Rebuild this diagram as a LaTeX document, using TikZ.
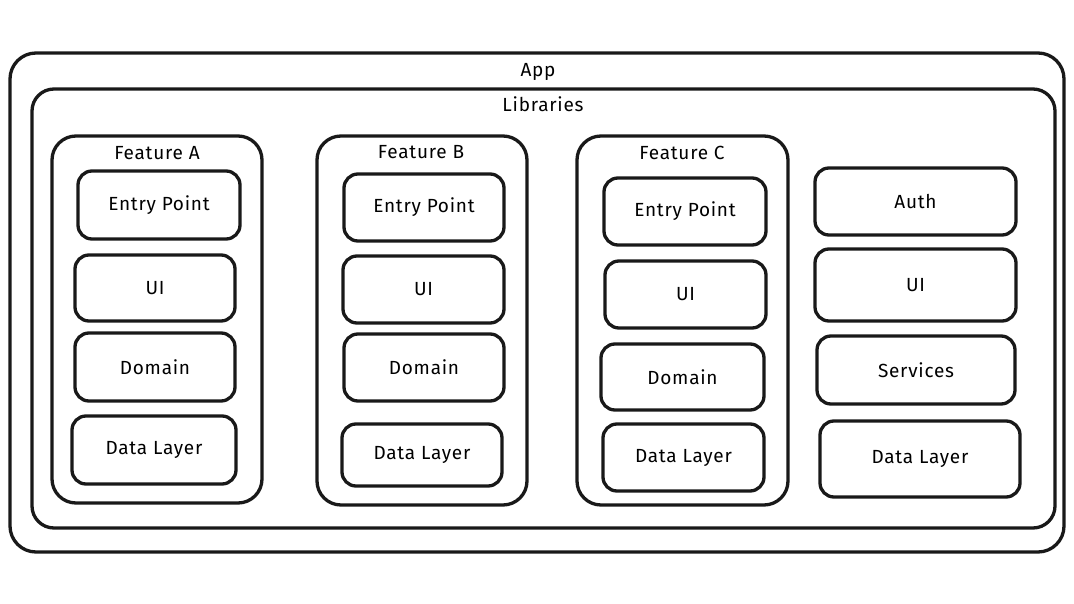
\documentclass[tikz,border=0pt]{standalone}
\usepackage{fontspec}
\setmainfont{Fira Sans}[LetterSpace=4]
\begin{document}
\begin{tikzpicture}[x=1pt,y=-1pt,
  frame/.style={draw=black!90, line width=3.3pt, rounded corners=#1, inner sep=0pt},
  frame/.default=14pt,
  item/.style={frame=14pt, font=\fontsize{19}{22}\selectfont},
  ttl/.style={font=\fontsize{19}{22}\selectfont, inner sep=1pt}]
\useasboundingbox[fill=white] (0,0) rectangle (1074,604);
% App
\node[frame=26pt, minimum width=1054pt, minimum height=499pt] (app) at (537,302.5) {};
\node[ttl] (appt) at (538,72) {App};
% Libraries
\node[frame=22pt, minimum width=1023pt, minimum height=439pt] (libs) at (543.5,308.5) {};
\node[ttl] (libst) at (543,104) {Libraries};
% Feature A
\node[frame=24pt, minimum width=210pt, minimum height=367pt] (fa) at (157,319.5) {};
\node[ttl] (fat) at (157,153) {Feature A};
\node[item, minimum width=162pt, minimum height=68pt] (faep) at (159,205) {Entry Point};
\node[item, minimum width=160pt, minimum height=66pt] (faui) at (155,288) {UI};
\node[item, minimum width=160pt, minimum height=68pt] (fado) at (155,367) {Domain};
\node[item, minimum width=164pt, minimum height=68pt] (fadl) at (154,450) {Data Layer};
% Feature B
\node[frame=24pt, minimum width=210pt, minimum height=369pt] (fb) at (422,320.5) {};
\node[ttl] (fbt) at (421,152) {Feature B};
\node[item, minimum width=160pt, minimum height=67pt] (fbep) at (424,207.5) {Entry Point};
\node[item, minimum width=161pt, minimum height=67pt] (fbui) at (423.5,289.5) {UI};
\node[item, minimum width=160pt, minimum height=67pt] (fbdo) at (424,367.5) {Domain};
\node[item, minimum width=160pt, minimum height=62pt] (fbdl) at (422,455) {Data Layer};
% Feature C
\node[frame=24pt, minimum width=211pt, minimum height=369pt] (fc) at (682.5,320.5) {};
\node[ttl] (fct) at (682,153) {Feature C};
\node[item, minimum width=162pt, minimum height=67pt] (fcep) at (685,211.5) {Entry Point};
\node[item, minimum width=161pt, minimum height=67pt] (fcui) at (685.5,294.5) {UI};
\node[item, minimum width=163pt, minimum height=66pt] (fcdo) at (682.5,377) {Domain};
\node[item, minimum width=161pt, minimum height=67pt] (fcdl) at (683.5,457.5) {Data Layer};
% Shared column
\node[item, minimum width=201pt, minimum height=67pt] (auth) at (915.5,201.5) {Auth};
\node[item, minimum width=201pt, minimum height=72pt] (sui) at (915.5,285) {UI};
\node[item, minimum width=198pt, minimum height=68pt] (serv) at (916,370) {Services};
\node[item, minimum width=200pt, minimum height=76pt] (sdl) at (920,459) {Data Layer};
\end{tikzpicture}
\end{document}
